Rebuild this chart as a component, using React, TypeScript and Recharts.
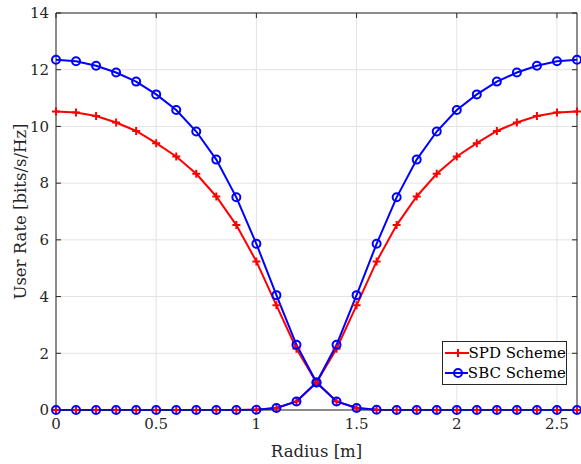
import { ComposedChart, Line, XAxis, YAxis, CartesianGrid, ReferenceLine } from 'recharts';

const radius = [0, 0.1, 0.2, 0.3, 0.4, 0.5, 0.6, 0.7, 0.8, 0.9, 1.0, 1.1, 1.2, 1.3, 1.4, 1.5, 1.6, 1.7, 1.8, 1.9, 2.0, 2.1, 2.2, 2.3, 2.4, 2.5, 2.6];
const spdUpper = [10.53, 10.49, 10.37, 10.14, 9.84, 9.41, 8.94, 8.33, 7.53, 6.52, 5.24, 3.69, 2.16, 0.97, 2.16, 3.69, 5.24, 6.52, 7.53, 8.33, 8.94, 9.41, 9.84, 10.14, 10.37, 10.49, 10.53];
const spdLower = [0, 0, 0, 0, 0, 0, 0, 0, 0, 0, 0.01, 0.07, 0.3, 0.97, 0.3, 0.07, 0.01, 0, 0, 0, 0, 0, 0, 0, 0, 0, 0];
const sbcUpper = [12.35, 12.3, 12.14, 11.9, 11.58, 11.13, 10.58, 9.82, 8.83, 7.5, 5.86, 4.05, 2.3, 0.97, 2.3, 4.05, 5.86, 7.5, 8.83, 9.82, 10.58, 11.13, 11.58, 11.9, 12.14, 12.3, 12.35];
const sbcLower = [0, 0, 0, 0, 0, 0, 0, 0, 0, 0, 0.01, 0.07, 0.3, 0.97, 0.3, 0.07, 0.01, 0, 0, 0, 0, 0, 0, 0, 0, 0, 0];
const xTicks = [0, 0.5, 1, 1.5, 2, 2.5];
const yTicks = [0, 2, 4, 6, 8, 10, 12, 14];
const X_MAX = 2.6;
const Y_MAX = 14;

const RED = '#ff0000';
const BLUE = '#0000ff';
const AXIS = '#262626';
const FONT = 'DejaVu Serif';

const data = radius.map((r, i) => ({
  r,
  spdUp: spdUpper[i],
  spdLow: spdLower[i],
  sbcUp: sbcUpper[i],
  sbcLow: sbcLower[i],
}));

const PlusDot = (props: any) => {
  const { cx, cy, index } = props;
  if (cx == null || cy == null) return <g key={index} />;
  return (
    <path
      key={index}
      d={`M${cx - 4},${cy}h8M${cx},${cy - 4}v8`}
      stroke={RED}
      strokeWidth={2}
      fill="none"
    />
  );
};

const circleDot = { r: 4, stroke: BLUE, strokeWidth: 2, fill: 'none' };
const tickStyle = { fill: AXIS, fontSize: 15, fontFamily: FONT };

// tick marks on the top and right edges, in data units (~5px)
const TICK_X = 0.025;
const TICK_Y = 0.18;

function LegendBox() {
  const row = (label: string, color: string, plus: boolean) => (
    <div style={{ display: 'flex', alignItems: 'center', height: 20 }}>
      <svg width={30} height={20}>
        <line x1={2} y1={10} x2={28} y2={10} stroke={color} strokeWidth={2} />
        {plus ? (
          <path d="M11,10h8M15,6v8" stroke={color} strokeWidth={2} />
        ) : (
          <circle cx={15} cy={10} r={4} stroke={color} strokeWidth={2} fill="none" />
        )}
      </svg>
      <span style={{ fontFamily: FONT, fontSize: 15, color: '#000', lineHeight: '20px', whiteSpace: 'nowrap' }}>{label}</span>
    </div>
  );
  return (
    <div
      style={{
        position: 'absolute',
        left: 442,
        top: 341,
        width: 125,
        height: 44,
        background: '#fff',
        border: `1px solid ${AXIS}`,
        boxSizing: 'border-box',
        paddingTop: 1,
      }}
    >
      {row('SPD Scheme', RED, true)}
      {row('SBC Scheme', BLUE, false)}
    </div>
  );
}

export default function App() {
  return (
    <div style={{ position: 'absolute', left: 0, top: 0, width: 581, height: 464, background: '#fff', fontFamily: FONT }}>
      <ComposedChart width={581} height={464} data={data} margin={{ top: 13, right: 4, bottom: 0, left: 0 }}>
        <CartesianGrid stroke="#e3e3e3" strokeWidth={1} />
        <XAxis
          dataKey="r"
          type="number"
          domain={[0, X_MAX]}
          ticks={xTicks}
          height={54}
          tickSize={-5}
          tickMargin={13}
          stroke={AXIS}
          tick={tickStyle}
          label={{ value: 'Radius [m]', position: 'insideBottom', offset: 7, fill: AXIS, fontSize: 16.5, fontFamily: FONT }}
        />
        <YAxis
          domain={[0, Y_MAX]}
          ticks={yTicks}
          width={56}
          tickSize={-5}
          tickMargin={12}
          stroke={AXIS}
          tick={tickStyle}
          label={{ value: 'User Rate [bits/s/Hz]', angle: -90, position: 'center', dx: -8, fill: AXIS, fontSize: 16.5, fontFamily: FONT }}
        />
        <ReferenceLine y={Y_MAX} stroke={AXIS} />
        <ReferenceLine x={X_MAX} stroke={AXIS} />
        {xTicks.map((t) => (
          <ReferenceLine key={'tx' + t} segment={[{ x: t, y: Y_MAX }, { x: t, y: Y_MAX - TICK_Y }]} stroke={AXIS} />
        ))}
        {yTicks.map((t) => (
          <ReferenceLine key={'ty' + t} segment={[{ x: X_MAX, y: t }, { x: X_MAX - TICK_X, y: t }]} stroke={AXIS} />
        ))}
        <Line dataKey="spdUp" stroke={RED} strokeWidth={2} dot={<PlusDot />} isAnimationActive={false} />
        <Line dataKey="spdLow" stroke={RED} strokeWidth={2} dot={<PlusDot />} isAnimationActive={false} />
        <Line dataKey="sbcUp" stroke={BLUE} strokeWidth={2} dot={circleDot} isAnimationActive={false} />
        <Line dataKey="sbcLow" stroke={BLUE} strokeWidth={2} dot={circleDot} isAnimationActive={false} />
      </ComposedChart>
      <LegendBox />
    </div>
  );
}
